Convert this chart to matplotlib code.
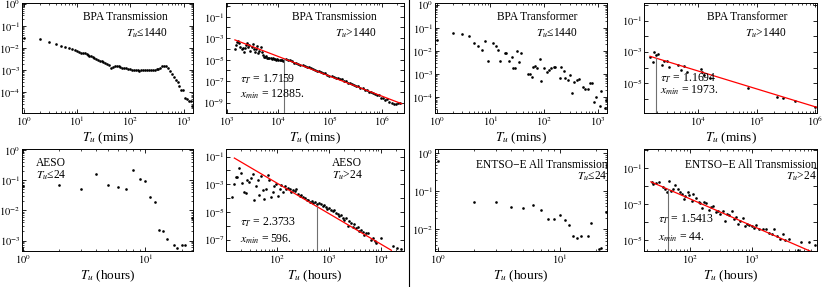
import numpy as np
import matplotlib
matplotlib.use("Agg")
import matplotlib.pyplot as plt
from matplotlib.ticker import FixedLocator, FuncFormatter, NullFormatter, LogLocator, NullLocator
from matplotlib.lines import Line2D

plt.rcParams['font.family'] = ['Liberation Serif', 'DejaVu Serif']
plt.rcParams['mathtext.fontset'] = 'stix'
plt.rcParams['axes.linewidth'] = 0.7

# ---- BPA Transmission, Tu <= 1440 (mins)
bpa_tr_short_x = [1, 2, 3, 4, 5, 6, 7, 8, 9, 10, 11, 12, 13, 14, 15, 16, 17, 18, 20, 21, 23, 25, 27, 29, 31,
                  34, 37, 40, 43, 47, 51, 55, 60, 65, 70, 76, 83, 90, 98, 106, 115, 125, 136, 148, 160, 174,
                  189, 205, 223, 242, 263, 285, 310, 336, 365, 397, 431, 468, 508, 552, 599, 651, 707, 768,
                  834, 906, 984, 1069, 1161, 1261, 1370, 1440]
bpa_tr_short_y = [0.028, 0.025, 0.0186, 0.015, 0.013, 0.0113, 0.0099, 0.0089, 0.0083, 0.0074,
                  0.0065, 0.0063, 0.0063, 0.0060, 0.0055, 0.0051, 0.0045, 0.0043, 0.0038, 0.0036,
                  0.0033, 0.0030, 0.0027, 0.0025, 0.00234, 0.00219, 0.00195, 0.00166, 0.00132, 0.00145,
                  0.00162, 0.00158, 0.00151, 0.00141, 0.00132, 0.00126, 0.00126, 0.00117, 0.00115, 0.00107,
                  0.0010, 0.00107, 0.0010, 0.00095, 0.00102, 0.00098, 0.0010, 0.00102, 0.0010, 0.00105,
                  0.00102, 0.00105, 0.0011, 0.00117, 0.00132, 0.00151, 0.00162, 0.00151, 0.00123, 0.00091,
                  0.00068, 0.0005, 0.00037, 0.00028, 0.000195, 0.000129, 0.000126, 5.6e-5, 5.0e-5, 4.0e-5,
                  4.2e-5, 2.4e-5]

# ---- BPA Transmission, Tu > 1440 (mins)
bpa_tr_long_x = [1450, 1520, 1600, 1680, 1760, 1850, 1950, 2050, 2150, 2260, 2380, 2500, 2630, 2760, 2900,
                 3050, 3200, 3370, 3540, 3720, 3910, 4110, 4320, 4540, 4770, 5010, 5270, 5540, 5820, 6120,
                 6430, 6760, 7110, 7470, 7850, 8250, 8670, 9110, 9580, 10070, 10580, 11120, 11690, 12280,
                 14100, 15500, 17000, 18600, 20400, 22400, 24500, 26900, 29500, 32400, 35500, 38900, 42700,
                 46800, 51300, 56200, 61700, 67600, 74100, 81300, 89100, 97700, 107000, 117000, 129000,
                 141000, 155000, 170000, 186000, 204000, 224000, 245000, 269000, 295000, 324000, 355000,
                 389000, 427000, 468000, 513000, 562000, 617000, 676000, 741000, 813000, 891000, 977000,
                 1070000, 1170000, 1290000, 1410000, 1550000, 1700000, 1860000, 2040000, 2240000]
bpa_tr_long_y = [1.1e-4, 2.3e-4, 4.4e-4, 5.9e-4, 3.3e-4, 1.6e-4, 9e-5, 1.3e-4, 5.5e-5, 1.2e-4, 2.6e-4,
                 3.4e-4, 1.5e-4, 2.3e-4, 6e-5, 1.4e-4, 2.8e-4, 1.1e-4, 5e-5, 1.1e-4, 1.8e-4, 3.9e-5, 6e-5,
                 1.5e-4, 5e-5, 3e-5, 1.9e-5, 1.7e-5, 2.2e-5, 1.5e-5, 1.6e-5, 1.3e-5, 1.5e-5, 1.2e-5,
                 1.4e-5, 1.1e-5, 1.2e-5, 1.0e-5, 1.1e-5, 9e-6, 1.0e-5, 8.5e-6, 9.5e-6, 8e-6,
                 1.29e-5, 9.1e-6, 9.4e-6, 7.0e-6, 5.2e-6, 5.5e-6, 4.4e-6, 3.3e-6, 3.2e-6, 2.6e-6, 1.9e-6,
                 1.9e-6, 1.74e-6, 1.26e-6, 1.11e-6, 8.4e-7, 8.6e-7, 6.75e-7, 5.3e-7, 5.3e-7, 4.1e-7, 3.3e-7,
                 3.3e-7, 2.6e-7, 1.92e-7, 1.9e-7, 1.51e-7, 1.47e-7, 1.03e-7, 9.8e-8, 6.9e-8, 6.5e-8, 6.1e-8,
                 4.4e-8, 3.5e-8, 3.4e-8, 2.4e-8, 2.2e-8, 1.6e-8, 1.65e-8, 1.1e-8, 1.08e-8, 7.4e-9, 7.0e-9,
                 4.7e-9, 4.8e-9, 3.0e-9, 3.0e-9, 1.9e-9, 2.0e-9, 1.23e-9, 1.04e-9, 8.2e-10, 7.5e-10,
                 1.0e-9, 9.1e-10]
bpa_tr_fit_x = [1450, 2.44e6]
bpa_tr_fit_y = [7e-4, 8e-10]
bpa_tr_tau = "1.7159"
bpa_tr_xmin = 12885

# ---- BPA Transformer, Tu <= 1440 (mins)
bpa_tf_short_x = [1, 2, 3, 4, 5, 6, 7, 8, 9, 11, 13, 14, 15, 19, 20, 22, 25, 26, 29, 32, 35, 38, 50, 54, 59,
                  62, 68, 75, 84, 90, 100, 115, 123, 138, 152, 163, 200, 210, 233, 250, 280, 310, 330, 365,
                  410, 450, 545, 590, 650, 720, 775, 850, 930, 1100, 1150, 1360, 1410]
bpa_tf_short_y = [0.032, 0.059, 0.053, 0.045, 0.023, 0.016, 0.011, 0.027, 0.0039, 0.023, 0.017, 0.011,
                  0.0037, 0.008, 0.008, 0.0037, 0.0058, 0.0019, 0.0018, 0.0105, 0.0035, 0.008, 0.001, 0.001,
                  7.4e-4, 0.002, 0.0023, 0.0019, 0.0044, 5.2e-4, 0.0019, 0.0012, 0.0015, 0.0018, 0.002,
                  0.002, 7.1e-4, 0.0021, 0.0014, 6.6e-4, 5.6e-4, 9.3e-4, 1.6e-4, 4.8e-4, 5.6e-4, 6e-4,
                  2.7e-4, 2.4e-4, 2.2e-4, 4e-4, 4.3e-4, 6e-5, 1.07e-4, 4.2e-5, 1.9e-4, 3.6e-5, 7.6e-5]

# ---- BPA Transformer, Tu > 1440 (mins)
bpa_tf_long_x = [1540, 1700, 1820, 1950, 2100, 2450, 2680, 3040, 3300, 4700, 5200, 5900, 6500, 11400,
                 12000, 13000, 16200, 73000, 227000, 282000, 457000, 1000000]
bpa_tf_long_y = [4.8e-4, 2.3e-4, 1e-3, 6.4e-4, 7.4e-4, 1.55e-4, 2.8e-4, 2.5e-4, 1.05e-4, 1.55e-4, 6.7e-5,
                 1.2e-4, 5e-5, 8.1e-5, 5e-5, 3.6e-5, 2.2e-5, 4.8e-6, 1.4e-6, 1.1e-6, 7.8e-7, 3.2e-7]
bpa_tf_fit_x = [1540, 1.07e6]
bpa_tf_fit_y = [5.3e-4, 2.9e-7]
bpa_tf_tau = "1.1694"
bpa_tf_xmin = 1973

# ---- AESO, Tu <= 24 (hours)
aeso_short_x = [1, 2, 3, 4, 5, 6, 7, 8, 9, 10, 11, 12, 13, 14, 15, 17, 18, 20, 21, 24]
aeso_short_y = [0.063, 0.068, 0.05, 0.163, 0.068, 0.059, 0.053, 0.22, 0.112, 0.095, 0.028, 0.019, 0.0023,
                0.0021, 0.0011, 7e-4, 5.6e-4, 7e-4, 7e-4, 0.0057]

# ---- AESO, Tu > 24 (hours)
aeso_long_x = [13.9, 15, 16.2, 17.4, 18.7, 20.2, 21.8, 23.5, 25.2, 27.2, 29.4, 31.6, 34, 36.7, 39.5, 42.6,
               45.8, 49.5, 53, 57.5, 62, 67, 72, 77.6, 83.6, 90, 97, 104, 113, 122, 131, 141, 152, 164,
               176, 190, 205, 221, 238, 257, 276, 298, 321, 346, 373, 402, 433, 467, 503, 542, 600,
               645, 700, 760, 815, 875, 940, 1020, 1090, 1180, 1270, 1370, 1480, 1590, 1710, 1850, 1990,
               2140, 2300, 2500, 2680, 2890, 3110, 3360, 3610, 3890, 4190, 4510, 4860, 5240, 5640, 6580,
               7090, 7640, 8230, 10300, 17300, 20200, 25000]
aeso_long_y = [1.15e-4, 1e-3, 3.3e-3, 3.3e-3, 0.015, 6.6e-3, 1.3e-3, 2.9e-4, 2.2e-4, 2.2e-3, 1.45e-3,
               2.9e-3, 5.6e-3, 7.9e-5, 7.6e-4, 1.9e-3, 1.7e-4, 3.9e-3, 4e-4, 8.7e-5, 4.5e-4, 4.4e-3, 2e-3,
               1.15e-4, 2.6e-4, 7.6e-4, 1e-3, 1.5e-4, 5e-4, 9e-4, 3e-4, 7.6e-4, 4.5e-4, 5.8e-4, 4.9e-4,
               2.9e-4, 4e-4, 3.4e-4, 4.5e-4, 2e-4, 1.35e-4, 1.65e-4, 1.15e-4, 9.8e-5, 7.4e-5, 7.9e-5,
               5.7e-5, 6.6e-5, 4.5e-5, 5.1e-5, 3.9e-5,
               4.7e-5, 4.0e-5, 3.0e-5, 3.4e-5, 2.3e-5, 1.7e-5, 1.95e-5, 1.35e-5, 1.15e-5, 1.5e-5, 9.1e-6,
               7.8e-6, 5.4e-6, 5.9e-6, 3.9e-6, 2.6e-6, 3.5e-6, 1.05e-6, 2.2e-6, 1.55e-6, 8.9e-7, 1.3e-6,
               6.9e-7, 8.9e-7, 4.4e-7, 5.2e-7, 3.5e-7, 2.3e-7, 3.0e-7, 3.4e-7, 1.0e-7, 1.35e-7, 7.9e-8,
               6.0e-8, 1.35e-7, 3.5e-8, 2.7e-8, 2.4e-8]
aeso_fit_x = [15.2, 16000]
aeso_fit_y = [0.078, 1.8e-8]
aeso_tau = "2.3733"
aeso_xmin = 596

# ---- ENTSO-E All Transmission, Tu <= 24 (hours)
entso_short_x = [1, 2, 3, 4, 5, 6, 7, 8, 9, 10, 11, 12, 13, 14, 15, 17, 18, 21, 22, 24]
entso_short_y = [0.61, 0.051, 0.051, 0.038, 0.037, 0.044, 0.032, 0.019, 0.019, 0.024, 0.018, 0.013,
                 0.0066, 0.0058, 0.0066, 0.0066, 0.0145, 0.003, 0.0033, 0.028]

# ---- ENTSO-E All Transmission, Tu > 24 (hours)
entso_long_x = [24, 25, 28, 32, 36, 40, 42, 45, 49, 54, 58, 63, 69, 74, 79, 84, 92, 97, 108, 113, 125, 138,
                147, 156, 170, 181, 200, 218, 238, 263, 287, 309, 336, 371, 395, 430, 470, 505, 550, 600,
                650, 705, 770, 830, 910, 1000, 1090, 1160, 1310, 1490, 1690, 1860, 2100, 2290, 2530, 2860,
                3110, 3440, 4000, 5440, 6200, 8400, 10500]
entso_long_y = [0.017, 0.0123, 0.014, 0.0166, 0.0089, 0.0066, 0.0049, 0.020, 0.0053, 0.0071, 0.011, 0.0066,
                0.0047, 0.0038, 0.002, 0.0028, 0.0047, 0.0031, 0.0015, 0.0035, 0.0023, 0.00134, 0.00123,
                5.8e-4, 1.35e-3, 1.23e-3, 4.7e-4, 6.6e-4, 8.1e-4, 3.5e-4, 4.4e-4, 2.8e-4, 4.4e-4, 1.23e-4,
                2.8e-4, 2.5e-4, 4.4e-4, 1.5e-4, 1.9e-4, 8.1e-5, 1.23e-4, 1.66e-4, 6e-5, 8.1e-5, 7.1e-5,
                6e-5, 4.7e-5, 7.1e-5, 4.4e-5, 4e-5, 4.4e-5, 2.6e-5, 2.3e-5, 4.4e-5, 1.7e-5, 1.23e-5,
                2.3e-5, 1e-5, 1.23e-5, 3.1e-6, 8.1e-6, 8.1e-6, 5.8e-6]
entso_fit_x = [23.4, 11000]
entso_fit_y = [0.017, 1.8e-6]
entso_tau = "1.5413"
entso_xmin = 44


W, H = 822, 287


def box(l, t, r, b):
    return [l / W, 1 - b / H, (r - l) / W, (b - t) / H]


def setup(ax, xlim, ylim, xexp, yexp, ylabeled, xlabel, yminor=True):
    ax.set_xscale('log')
    ax.set_yscale('log')
    ax.set_xlim(xlim)
    ax.set_ylim(ylim)
    ax.xaxis.set_major_locator(FixedLocator([10.0 ** e for e in xexp]))
    ax.xaxis.set_major_formatter(FuncFormatter(lambda v, p: r'$10^{%d}$' % round(np.log10(v))))
    ax.xaxis.set_minor_locator(LogLocator(base=10, subs=np.arange(2, 10), numticks=100))
    ax.xaxis.set_minor_formatter(NullFormatter())
    ax.yaxis.set_major_locator(FixedLocator([10.0 ** e for e in yexp]))
    ax.yaxis.set_major_formatter(FuncFormatter(
        lambda v, p: r'$10^{%d}$' % round(np.log10(v)) if round(np.log10(v)) in ylabeled else ''))
    if yminor:
        ax.yaxis.set_minor_locator(LogLocator(base=10, subs=np.arange(2, 10), numticks=100))
    else:
        ax.yaxis.set_minor_locator(NullLocator())
    ax.yaxis.set_minor_formatter(NullFormatter())
    ax.tick_params(which='both', direction='in', top=True, right=True, labelsize=7.5, pad=1.2)
    ax.tick_params(which='major', length=3.0, width=0.6)
    ax.tick_params(which='minor', length=1.6, width=0.5)
    ax.set_xlabel(xlabel, fontsize=9.5, labelpad=2)


def dots(ax, x, y):
    ax.plot(x, y, 'o', ms=1.9, color='black', mec='none')


def fit(ax, fx, fy, xmin, tau, ybottom, tx, ty1, ty2):
    ax.plot(fx, fy, color='red', lw=0.9)
    ytop = 10 ** np.interp(np.log10(xmin), np.log10(fx), np.log10(fy))
    ax.plot([xmin, xmin], [ybottom, ytop], color='#707070', lw=0.8)
    ax.text(tx, ty1, r'$\tau_T$ = ' + tau, transform=ax.transAxes, fontsize=8.5, va='center')
    ax.text(tx, ty2, r'$x_{min}$ = %d.' % xmin, transform=ax.transAxes, fontsize=8.5, va='center')


def label(ax, x, y1, y2, name, cond, ha='right'):
    ax.text(x, y1, name, transform=ax.transAxes, fontsize=8.3, ha=ha, va='center')
    ax.text(x, y2, cond, transform=ax.transAxes, fontsize=8.3, ha=ha, va='center')


fig = plt.figure(figsize=(W / 100, H / 100), dpi=100)

# top row
ax1 = fig.add_axes(box(22, 3, 193, 113))
setup(ax1, (0.92, 1500), (1.17e-5, 1.1), [0, 1, 2, 3], [0, -1, -2, -3, -4], [0, -1, -2, -3, -4],
      r'$T_u$ (mins)')
dots(ax1, bpa_tr_short_x, bpa_tr_short_y)
label(ax1, 0.854, 0.873, 0.727, 'BPA Transmission', '$T_u$\u22641440')

ax2 = fig.add_axes(box(226, 3, 404, 113))
yl2 = (1.1e-10, 1.9)
setup(ax2, (975, 2.7e6), yl2, [3, 4, 5, 6], list(range(0, -10, -1)), [-1, -3, -5, -7, -9],
      r'$T_u$ (mins)', yminor=False)
dots(ax2, bpa_tr_long_x, bpa_tr_long_y)
fit(ax2, bpa_tr_fit_x, bpa_tr_fit_y, bpa_tr_xmin, bpa_tr_tau, yl2[0], 0.079, 0.309, 0.173)
label(ax2, 0.848, 0.873, 0.727, 'BPA Transmission', '$T_u$>1440')

ax3 = fig.add_axes(box(435, 3, 607, 113))
setup(ax3, (0.93, 1500), (2.1e-5, 1.22), [0, 1, 2, 3], [0, -1, -2, -3, -4], [0, -1, -2, -3, -4],
      r'$T_u$ (mins)')
dots(ax3, bpa_tf_short_x, bpa_tf_short_y)
label(ax3, 0.831, 0.873, 0.727, 'BPA Transformer', '$T_u$\u22641440')

ax4 = fig.add_axes(box(644, 3, 817, 113))
yl4 = (1.26e-7, 1.35)
setup(ax4, (1217, 1.07e6), yl4, [4, 5, 6], list(range(0, -7, -1)), [-1, -3, -5],
      r'$T_u$ (mins)', yminor=False)
dots(ax4, bpa_tf_long_x, bpa_tf_long_y)
fit(ax4, bpa_tf_fit_x, bpa_tf_fit_y, bpa_tf_xmin, bpa_tf_tau, yl4[0], 0.092, 0.32, 0.209)
label(ax4, 0.827, 0.873, 0.727, 'BPA Transformer', '$T_u$>1440')

# bottom row
ax5 = fig.add_axes(box(22, 149, 193, 251))
setup(ax5, (0.99, 24.5), (4.5e-4, 1.1), [0, 1], [0, -1, -2, -3], [0, -1, -2, -3], r'$T_u$ (hours)')
dots(ax5, aeso_short_x, aeso_short_y)
label(ax5, 0.17, 0.863, 0.745, 'AESO', '$T_u$\u226424', ha='center')

ax6 = fig.add_axes(box(226, 149, 404, 251))
yl6 = (1.6e-8, 0.35)
setup(ax6, (10.5, 28000), yl6, [2, 3, 4], list(range(-1, -8, -1)), [-1, -3, -5, -7],
      r'$T_u$ (hours)', yminor=False)
dots(ax6, aeso_long_x, aeso_long_y)
fit(ax6, aeso_fit_x, aeso_fit_y, aeso_xmin, aeso_tau, yl6[0], 0.079, 0.277, 0.118)
label(ax6, 0.68, 0.863, 0.745, 'AESO', '$T_u$>24', ha='center')

ax7 = fig.add_axes(box(435, 149, 607, 251))
setup(ax7, (0.95, 24.5), (2.7e-3, 1.29), [0, 1], [0, -1, -2], [0, -1, -2], r'$T_u$ (hours)')
dots(ax7, entso_short_x, entso_short_y)
label(ax7, 1.005, 0.843, 0.728, 'ENTSO\u2212E All Transmission', '$T_u$\u226424')

ax8 = fig.add_axes(box(644, 149, 817, 251))
yl8 = (2.6e-6, 1.1)
setup(ax8, (18.1, 11200), yl8, [2, 3], list(range(0, -6, -1)), [-1, -3, -5],
      r'$T_u$ (hours)', yminor=False)
dots(ax8, entso_long_x, entso_long_y)
fit(ax8, entso_fit_x, entso_fit_y, entso_xmin, entso_tau, yl8[0], 0.081, 0.314, 0.13)
label(ax8, 1.0, 0.843, 0.728, 'ENTSO\u2212E All Transmission', '$T_u$>24')

# separator between the two halves
fig.add_artist(Line2D([409 / W, 409 / W], [0, 1], transform=fig.transFigure, color='black', lw=0.8))

fig.savefig('out.png', dpi=100)
